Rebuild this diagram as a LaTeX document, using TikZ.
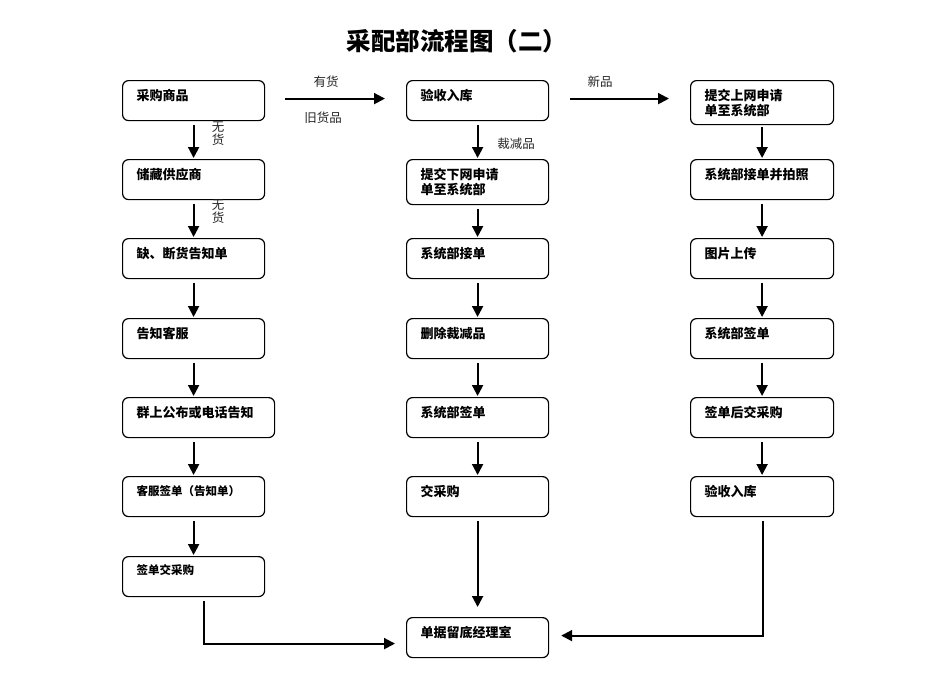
\documentclass[tikz,border=0pt]{standalone}
\usepackage{fontspec}
\setmainfont{Noto Sans CJK SC}
\usetikzlibrary{arrows.meta,calc}
\newcommand\bxt[4]{\parbox[c][#2][t]{#1}{\vspace*{#3}\leftskip=14pt\relax\baselineskip=15pt #4}}
\tikzset{
  box/.style={draw, line width=1.2pt, rounded corners=6pt, inner sep=0pt, anchor=north west, font=\fontsize{13}{15}\selectfont\bfseries},
  boxs/.style={box, font=\fontsize{11.5}{14}\selectfont\bfseries},
  arr/.style={line width=2pt, -{Triangle[length=11pt,width=11pt]}},
  lbl/.style={font=\fontsize{12.5}{13}\selectfont, text=black!85, inner sep=0pt, align=center},
  ttl/.style={font=\fontsize{24.5}{26}\selectfont\bfseries, inner sep=0pt}
}
\begin{document}
\begin{tikzpicture}[x=1pt,y=-1pt]
\useasboundingbox (0,0) rectangle (950,672);
\node[ttl] (title) at (457,41) {采配部流程图（二）};
% column 1
\node[box] (a1) at (122,80) {\bxt{142pt}{40pt}{9pt}{采购商品}};
\node[box] (a2) at (122,159) {\bxt{142pt}{40pt}{9pt}{储藏供应商}};
\node[box] (a3) at (122,238) {\bxt{142pt}{40pt}{9pt}{缺、断货告知单}};
\node[box] (a4) at (122,318) {\bxt{142pt}{40pt}{9pt}{告知客服}};
\node[box] (a5) at (122,397) {\bxt{152pt}{40pt}{9pt}{群上公布或电话告知}};
\node[boxs] (a6) at (122,476) {\bxt{142pt}{40pt}{9pt}{客服签单（告知单）}};
\node[boxs] (a7) at (122,556) {\bxt{142pt}{40pt}{8pt}{签单交采购}};
% column 2
\node[box] (b1) at (406,80) {\bxt{142pt}{40pt}{9pt}{验收入库}};
\node[box] (b2) at (406,159) {\bxt{142pt}{45pt}{9pt}{提交下网申请\\单至系统部}};
\node[box] (b3) at (406,238) {\bxt{142pt}{40pt}{9pt}{系统部接单}};
\node[box] (b4) at (406,318) {\bxt{142pt}{40pt}{9pt}{删除裁减品}};
\node[box] (b5) at (406,397) {\bxt{142pt}{40pt}{9pt}{系统部签单}};
\node[box] (b6) at (406,476) {\bxt{142pt}{40pt}{9pt}{交采购}};
\node[box] (b7) at (406,617) {\bxt{142pt}{40pt}{9pt}{单据留底经理室}};
% column 3
\node[box] (c1) at (690,80) {\bxt{143pt}{44pt}{9pt}{提交上网申请\\单至系统部}};
\node[box] (c2) at (690,159) {\bxt{143pt}{40pt}{9pt}{系统部接单并拍照}};
\node[box] (c3) at (690,238) {\bxt{143pt}{40pt}{9pt}{图片上传}};
\node[box] (c4) at (690,318) {\bxt{143pt}{40pt}{9pt}{系统部签单}};
\node[box] (c5) at (690,397) {\bxt{143pt}{40pt}{9pt}{签单后交采购}};
\node[box] (c6) at (690,476) {\bxt{143pt}{40pt}{9pt}{验收入库}};
% vertical arrows
\foreach \u/\v in {a1/a2,a2/a3,a3/a4,a4/a5,a5/a6,a6/a7}
  \draw[arr, shorten <=4pt, shorten >=1pt] (\u.south -| a1.south) -- (\v.north -| a1.north);
\foreach \u/\v in {b1/b2,b2/b3,b3/b4,b4/b5,b5/b6,c2/c3,c3/c4,c4/c5,c5/c6}
  \draw[arr, shorten <=4pt, shorten >=1pt] (\u.south) -- (\v.north);
\draw[arr, shorten <=2pt, shorten >=1pt] (c1.south) -- (c2.north);
\draw[arr, shorten <=4pt, shorten >=10pt] (b6.south) -- (b7.north);
% horizontal arrows
\draw[arr, shorten <=20pt, shorten >=21pt] ($(a1.east)+(0,-2)$) -- ($(b1.west)+(0,-2)$);
\draw[arr, shorten <=21pt, shorten >=21pt] ($(b1.east)+(0,-2)$) -- ($(c1.west)+(0,-4)$);
% bottom connectors
\coordinate (s1) at ($(a7.south)+(10,4)$);
\coordinate (e1) at ($(b7.west)+(-11,6)$);
\draw[arr] (s1) |- (e1);
\coordinate (s2) at ($(c6.south)+(0.5,4)$);
\coordinate (e2) at ($(b7.east)+(12,-2)$);
\draw[arr] (s2) |- (e2);
% labels
\node[lbl] (l1) at (326,82) {有货};
\node[lbl] (l2) at (323,118) {旧货品};
\node[lbl] (l3) at (600,82) {新品};
\node[lbl] (l4) at (516,144) {裁减品};
\node[lbl] (l5) at (218,134) {无\\货};
\node[lbl] (l6) at (218,212) {无\\货};
\end{tikzpicture}
\end{document}
